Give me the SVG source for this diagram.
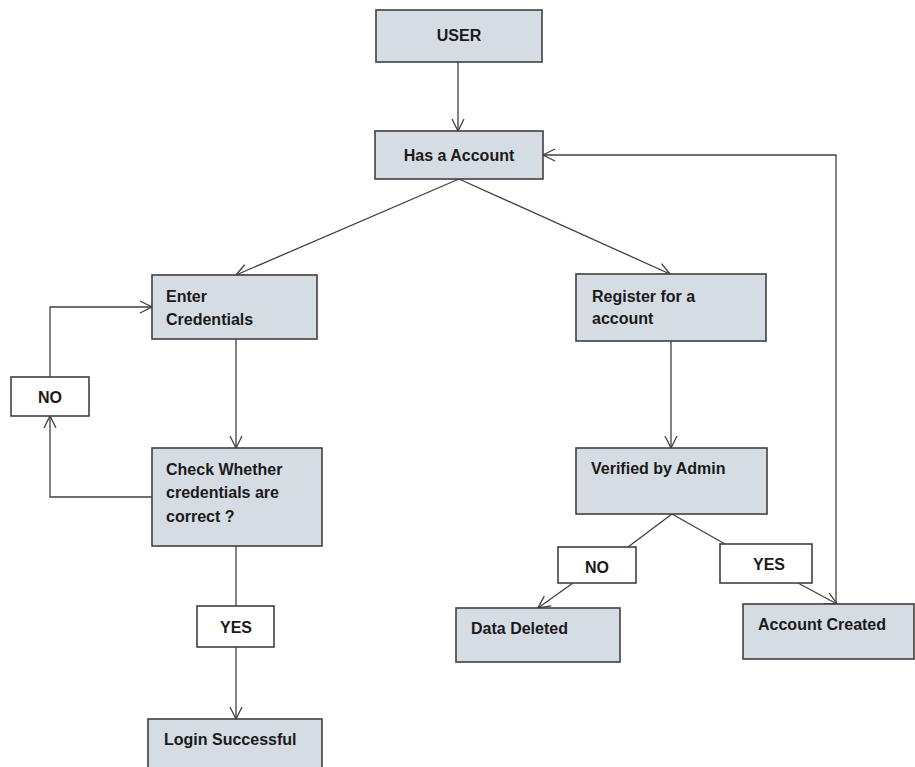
<svg xmlns="http://www.w3.org/2000/svg" width="915" height="767" viewBox="0 0 915 767">
<defs>
<marker id="arr" viewBox="0 0 14 14" refX="13" refY="7" markerWidth="14" markerHeight="14" markerUnits="userSpaceOnUse" orient="auto">
<path d="M1,1 L13,7 L1,13" fill="none" stroke="#404040" stroke-width="1.3"/>
</marker>
<style>
.box{fill:#d6dce4;stroke:#404040;stroke-width:1.6}
.lbl{fill:#ffffff;stroke:#404040;stroke-width:1.6}
.t{font-family:"Liberation Sans",Arial,sans-serif;font-weight:bold;font-size:16px;fill:#1a1a1a}
.c{text-anchor:middle}
.ln{fill:none;stroke:#404040;stroke-width:1.3}
.ar{marker-end:url(#arr)}
</style>
</defs>
<rect width="915" height="767" fill="#ffffff"/>
<g id="connectors">
<line class="ln ar" x1="458" y1="62" x2="458" y2="131"/>
<line class="ln ar" x1="459" y1="179" x2="236" y2="275"/>
<line class="ln ar" x1="459" y1="179" x2="670" y2="274"/>
<line class="ln ar" x1="236" y1="339" x2="236" y2="448"/>
<polyline class="ln ar" points="152,497 50,497 50,416"/>
<polyline class="ln ar" points="50,377 50,307 152,307"/>
<line class="ln" x1="236" y1="546" x2="236" y2="606"/>
<line class="ln ar" x1="236" y1="647" x2="236" y2="719"/>
<line class="ln ar" x1="671" y1="341" x2="671" y2="448"/>
<line class="ln" x1="672" y1="514" x2="628" y2="547"/>
<line class="ln" x1="672" y1="514" x2="725" y2="544"/>
<line class="ln ar" x1="573" y1="583" x2="538" y2="608"/>
<line class="ln ar" x1="798" y1="583" x2="837" y2="604"/>
<polyline class="ln ar" points="836,604 836,155 543,155"/>
</g>
<g id="user">
<rect class="box" x="376" y="10" width="166" height="52"/>
<text class="t c" x="459" y="41">USER</text>
</g>
<g id="has-account">
<rect class="box" x="375" y="131" width="168" height="48"/>
<text class="t c" x="459" y="161">Has a Account</text>
</g>
<g id="enter-credentials">
<rect class="box" x="152" y="275" width="165" height="64"/>
<text class="t" x="166" y="302">Enter</text>
<text class="t" x="166" y="325">Credentials</text>
</g>
<g id="no-left">
<rect class="lbl" x="11" y="377" width="78" height="39"/>
<text class="t c" x="50" y="403">NO</text>
</g>
<g id="check-credentials">
<rect class="box" x="152" y="448" width="170" height="98"/>
<text class="t" x="166" y="475">Check Whether</text>
<text class="t" x="166" y="498">credentials are</text>
<text class="t" x="166" y="522">correct ?</text>
</g>
<g id="yes-left">
<rect class="lbl" x="197" y="606" width="77" height="41"/>
<text class="t c" x="236" y="633">YES</text>
</g>
<g id="login-successful">
<rect class="box" x="148" y="719" width="174" height="60"/>
<text class="t" x="164" y="745">Login Successful</text>
</g>
<g id="register">
<rect class="box" x="576" y="274" width="190" height="67"/>
<text class="t" x="592" y="302">Register for a</text>
<text class="t" x="592" y="324">account</text>
</g>
<g id="verified">
<rect class="box" x="576" y="448" width="191" height="66"/>
<text class="t" x="591" y="474">Verified by Admin</text>
</g>
<g id="no-right">
<rect class="lbl" x="558" y="547" width="78" height="36"/>
<text class="t c" x="597" y="573">NO</text>
</g>
<g id="yes-right">
<rect class="lbl" x="720" y="544" width="92" height="39"/>
<text class="t c" x="769" y="570">YES</text>
</g>
<g id="data-deleted">
<rect class="box" x="456" y="608" width="164" height="54"/>
<text class="t" x="471" y="634">Data Deleted</text>
</g>
<g id="account-created">
<rect class="box" x="743" y="604" width="171" height="55"/>
<text class="t" x="758" y="630">Account Created</text>
</g>
</svg>
